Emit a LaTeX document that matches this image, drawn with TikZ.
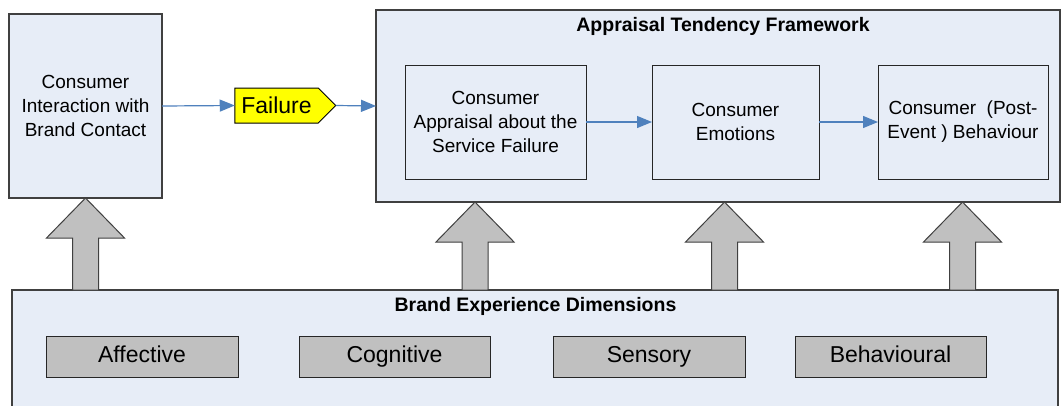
\documentclass[tikz,border=0pt]{standalone}
\usepackage{fontspec}
\setmainfont{Liberation Sans}
\usetikzlibrary{shapes.symbols,arrows.meta,calc}
\definecolor{panel}{HTML}{E7EDF7}
\definecolor{dimfill}{HTML}{C0C0C0}
\definecolor{linkblue}{HTML}{4F81BD}
\definecolor{edgegray}{HTML}{404040}
\definecolor{tagyellow}{HTML}{FFFF00}
% upward block arrow from the top of #2 to the bottom of #3, centred on x of #1
\newcommand\liftarrow[3]{%
  \draw[liftshape]
    ($(#1|-#2.north)+(-13,0)$) -- ($(#1|-#3.south)+(-13,40)$) --
    ($(#1|-#3.south)+(-39,40)$) -- (#1|-#3.south) --
    ($(#1|-#3.south)+(39,40)$) -- ($(#1|-#3.south)+(13,40)$) --
    ($(#1|-#2.north)+(13,0)$) -- cycle;}
\begin{document}
\begin{tikzpicture}[x=1pt,y=-1pt,
  panelbox/.style={draw=edgegray, fill=panel, line width=1.2pt, inner sep=0pt,
    outer sep=0pt, anchor=north west},
  stagebox/.style={draw=black!85, fill=panel, line width=1pt, inner sep=0pt,
    outer sep=0pt, anchor=north west, align=center,
    font=\fontsize{19}{24}\selectfont},
  dimbox/.style={draw=black!85, fill=dimfill, line width=1pt, inner sep=0pt,
    outer sep=0pt, anchor=north west, font=\fontsize{23}{28}\selectfont,
    text height=16.5pt, text depth=4.5pt},
  headline/.style={font=\bfseries\fontsize{19.5}{24}\selectfont, anchor=base},
  flow/.style={draw=linkblue, line width=1.2pt, -{Triangle[length=15pt,width=12pt]}},
  liftshape/.style={draw=edgegray, fill=dimfill, line width=1pt, line join=miter}]
\clip (0,0) rectangle (1063,405);
\fill[white] (0,0) rectangle (1063,405);

% left: interaction box
\node[stagebox, draw=edgegray, line width=1.2pt, minimum width=153pt, minimum height=184pt]
  (contact) at (9,14) {Consumer\\Interaction with\\Brand Contact};

% failure tag
\node[signal, signal to=east, draw=black, fill=tagyellow, line width=1pt,
  minimum width=101pt, minimum height=35pt, inner sep=0pt, outer sep=0pt,
  font=\fontsize{23}{28}\selectfont] (fail) at (276.5,105.5) {Failure};

% appraisal tendency framework
\node[panelbox, minimum width=684pt, minimum height=192pt] (atf) at (376,10) {};
\node[headline] (atftitle) at (723,31.5) {Appraisal Tendency Framework};
\node[stagebox, minimum width=181pt, minimum height=114pt] (appraisal) at (405,65)
  {Consumer\\Appraisal about the\\Service Failure};
\node[stagebox, minimum width=167pt, minimum height=114pt] (emotion) at (652,65)
  {Consumer\\Emotions};
\node[stagebox, minimum width=170pt, minimum height=114pt] (behaviour) at (878,65)
  {Consumer\ \ (Post-\\Event ) Behaviour};

% connectors
\draw[flow] (contact.east) -- (fail.west);
\draw[flow] (fail.east) -- (atf.west);
\draw[flow] (appraisal.east) -- (emotion.west);
\draw[flow] (emotion.east) -- (behaviour.west);

% brand experience dimensions
\node[panelbox, minimum width=1046pt, minimum height=130pt] (bed) at (12,290) {};
\node[headline] (bedtitle) at (535.5,311.5) {Brand Experience Dimensions};
\node[dimbox, minimum width=192pt, minimum height=41pt] (affective) at (46,336) {Affective};
\node[dimbox, minimum width=191pt, minimum height=41pt] (cognitive) at (299,336) {Cognitive};
\node[dimbox, minimum width=192pt, minimum height=41pt] (sensory) at (553,336) {Sensory};
\node[dimbox, minimum width=191pt, minimum height=41pt] (behavioural) at (795,336) {Behavioural};

% upward block arrows
\coordinate (lift1) at (85.5,0);
\coordinate (lift2) at (475,0);
\coordinate (lift3) at (724.5,0);
\coordinate (lift4) at (962.5,0);
\liftarrow{lift1}{bed}{contact}
\liftarrow{lift2}{bed}{atf}
\liftarrow{lift3}{bed}{atf}
\liftarrow{lift4}{bed}{atf}
\end{tikzpicture}
\end{document}
